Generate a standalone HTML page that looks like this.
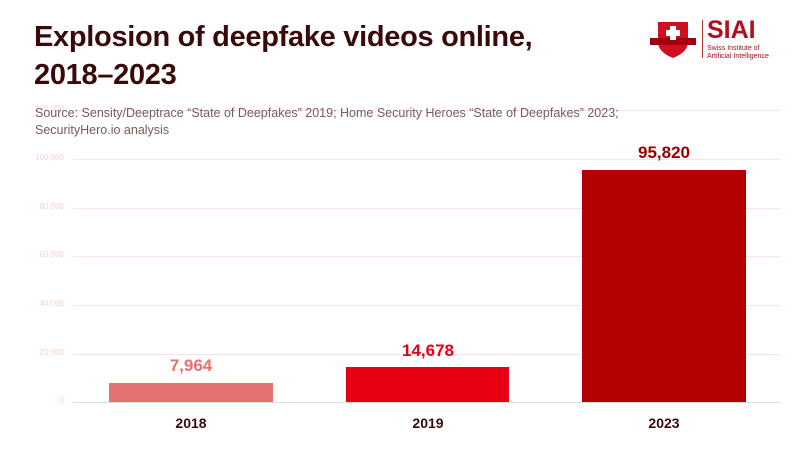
<!DOCTYPE html>
<html><head><style>
body{margin:0;width:800px;height:450px;background:#fff;font-family:"Liberation Sans",sans-serif;overflow:hidden;position:relative}
.t{position:absolute;left:34px;top:18px;font-size:29px;font-weight:bold;color:#3a0a0a;line-height:38px;letter-spacing:-0.3px}
.s{position:absolute;left:35px;top:105px;font-size:12.5px;color:#7a5a5a;line-height:17px}
.yl{position:absolute;width:64px;left:0;text-align:right;font-size:8px;color:#f3d4d4}
.g{position:absolute;left:73px;width:707px;height:1px;background:#fae3e3}
.b{position:absolute}
.v{position:absolute;width:164px;text-align:center;font-size:17px;font-weight:bold}
.x{position:absolute;width:164px;text-align:center;font-size:14px;font-weight:bold;color:#3a0a0a;top:415px}
</style></head><body>
<div class="g" style="top:110px"></div>
<div class="g" style="top:159px"></div>
<div class="g" style="top:208px"></div>
<div class="g" style="top:256px"></div>
<div class="g" style="top:305px"></div>
<div class="g" style="top:354px"></div>
<div class="g" style="top:402px;background:#ddd"></div>
<div class="yl" style="top:104px">120,000</div>
<div class="yl" style="top:153px">100,000</div>
<div class="yl" style="top:202px">80,000</div>
<div class="yl" style="top:250px">60,000</div>
<div class="yl" style="top:299px">40,000</div>
<div class="yl" style="top:348px">20,000</div>
<div class="yl" style="top:396px">0</div>
<div class="t">Explosion of deepfake videos online,<br>2018–2023</div>
<div class="s">Source: Sensity/Deeptrace “State of Deepfakes” 2019; Home Security Heroes “State of Deepfakes” 2023;<br>SecurityHero.io analysis</div>
<div class="b" style="left:109px;width:164px;top:383px;height:19px;background:#e57171"></div>
<div class="b" style="left:346px;width:163px;top:367px;height:35px;background:#e60012"></div>
<div class="b" style="left:582px;width:164px;top:170px;height:232px;background:#b30000"></div>
<div class="v" style="left:109px;top:356px;color:#e57171">7,964</div>
<div class="v" style="left:346px;top:341px;color:#e60012">14,678</div>
<div class="v" style="left:582px;top:143px;color:#9a0000">95,820</div>
<div class="x" style="left:109px">2018</div>
<div class="x" style="left:346px">2019</div>
<div class="x" style="left:582px">2023</div>
<svg style="position:absolute;left:648px;top:20px" width="50" height="40">
<path d="M10 2 H40 V22 Q40 32 25 38 Q10 32 10 22Z" fill="#d01020"/>
<rect x="2" y="18" width="46" height="7" fill="#a00010"/>
<rect x="22" y="6" width="6" height="14" fill="#fff"/><rect x="18" y="10" width="14" height="6" fill="#fff"/>
</svg>
<div style="position:absolute;left:702px;top:20px;width:1px;height:38px;background:#b33"></div>
<div style="position:absolute;left:707px;top:16px;font-size:25px;font-weight:bold;color:#b01020">SIAI</div>
<div style="position:absolute;left:707px;top:45px;font-size:7px;line-height:8px;color:#a01020">Swiss Institute of<br>Artificial Intelligence</div>
</body></html>
